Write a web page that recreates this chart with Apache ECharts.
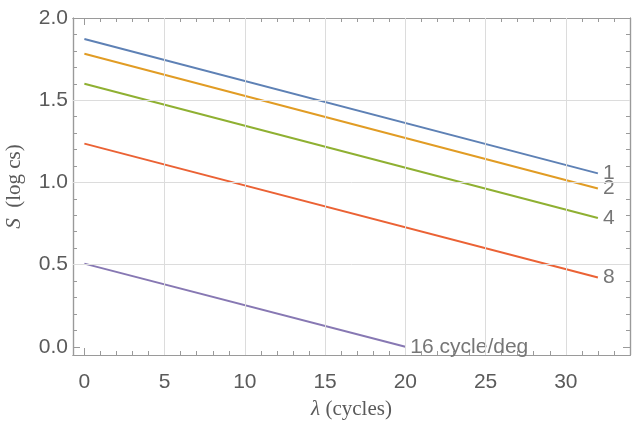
<!DOCTYPE html>
<html><head><meta charset="utf-8">
<script src="https://cdn.jsdelivr.net/npm/echarts@6/dist/echarts.min.js"></script>
<style>html,body{margin:0;padding:0;background:#fff}#c{width:632px;height:424px}</style>
</head><body><div id="c"></div>
<script>
const lineNames = ['1', '2', '4', '8', '16 cycle/deg'];
const lineColors = ['#5E81B5', '#E19C24', '#8FB032', '#EB6235', '#8778B3'];
const xStart = [0, 0, 0, 0, 0];
const xEnd = [32, 32, 32, 32, 20];
const yStart = [1.872, 1.783, 1.600, 1.236, 0.506];
const yEnd = [1.055, 0.963, 0.783, 0.421, 0.0];
const xMajor = [0, 5, 10, 15, 20, 25, 30];
const xMinor = [];
for (let v = 0; v <= 34; v++) if (v % 5 !== 0) xMinor.push(v);
const yMajor = [0, 0.5, 1.0, 1.5, 2.0];
const yMinor = [];
for (let i = 0; i <= 20; i++) if (i % 5 !== 0) yMinor.push(i / 10);
const xGrid = [5, 10, 15, 20, 25, 30];
const yGrid = [0.5, 1.0, 1.5];

const X_MIN = -0.71, X_MAX = 34, Y_MIN = -0.05, Y_MAX = 2.0;
const frameColor = '#9a9a9a';
const labelFont = { fontFamily: 'Liberation Sans, Arial, sans-serif', fontSize: 21, color: '#5a5a5a' };

function xAx(pos, major, showLabel) {
  return {
    type: 'value', position: pos, min: X_MIN, max: X_MAX,
    axisLine: { show: true, onZero: false, lineStyle: { color: frameColor, width: 1.2 } },
    axisTick: { show: true, inside: true, length: major ? 7 : 4, customValues: major ? xMajor : xMinor, lineStyle: { color: frameColor } },
    axisLabel: { show: showLabel, customValues: xMajor, margin: 17, formatter: v => String(v), ...labelFont },
    splitLine: { show: false }
  };
}
function yAx(pos, major, showLabel) {
  return {
    type: 'value', position: pos, min: Y_MIN, max: Y_MAX,
    axisLine: { show: true, onZero: false, lineStyle: { color: frameColor, width: 1.2 } },
    axisTick: { show: true, inside: true, length: major ? 7 : 4, customValues: major ? yMajor : yMinor, lineStyle: { color: frameColor } },
    axisLabel: { show: showLabel, customValues: yMajor, margin: 5, formatter: v => v.toFixed(1), ...labelFont },
    splitLine: { show: false }
  };
}

const xAxes = [xAx('bottom', true, true), xAx('bottom', false, false), xAx('top', true, false), xAx('top', false, false)];
xAxes[0].name = '{i|λ} (cycles)';
xAxes[0].nameLocation = 'middle';
xAxes[0].nameGap = 44;
xAxes[0].nameTextStyle = { fontFamily: 'Liberation Serif, Times New Roman, serif', fontSize: 21, color: '#5a5a5a',
  rich: { i: { fontStyle: 'italic', fontFamily: 'Liberation Serif, serif', fontSize: 21, color: '#5a5a5a' } } };
const yAxes = [yAx('left', true, true), yAx('left', false, false), yAx('right', true, false), yAx('right', false, false)];
yAxes[0].name = '{i|S}  (log cs)';
yAxes[0].nameLocation = 'middle';
yAxes[0].nameGap = 48;
yAxes[0].nameTextStyle = { fontFamily: 'Liberation Serif, Times New Roman, serif', fontSize: 21, color: '#5a5a5a',
  rich: { i: { fontStyle: 'italic', fontFamily: 'Liberation Serif, serif', fontSize: 21, color: '#5a5a5a' } } };

const series = [{
  type: 'line', data: [], silent: true, z: 1,
  markLine: {
    silent: true, symbol: 'none', animation: false,
    label: { show: false },
    lineStyle: { color: '#dcdcdc', width: 1, type: 'solid' },
    data: xGrid.map(v => ({ xAxis: v })).concat(yGrid.map(v => ({ yAxis: v })))
  }
}];
lineNames.forEach((n, i) => {
  series.push({
    type: 'line', name: n, z: 3, symbol: 'none',
    data: [[xStart[i], yStart[i]], [xEnd[i], yEnd[i]]],
    lineStyle: { color: lineColors[i], width: 2 },
    itemStyle: { color: lineColors[i] },
    endLabel: { show: true, formatter: n, distance: 5, fontFamily: 'Liberation Sans, Arial, sans-serif', fontSize: 21, color: '#767676' }
  });
});

const chart = echarts.init(document.getElementById('c'), null, { renderer: 'canvas' });
chart.setOption({
  animation: false,
  grid: { left: 73, right: 2, top: 18, bottom: 69, containLabel: false, outerBoundsMode: 'none' },
  xAxis: xAxes,
  yAxis: yAxes,
  series: series
});
</script></body></html>
